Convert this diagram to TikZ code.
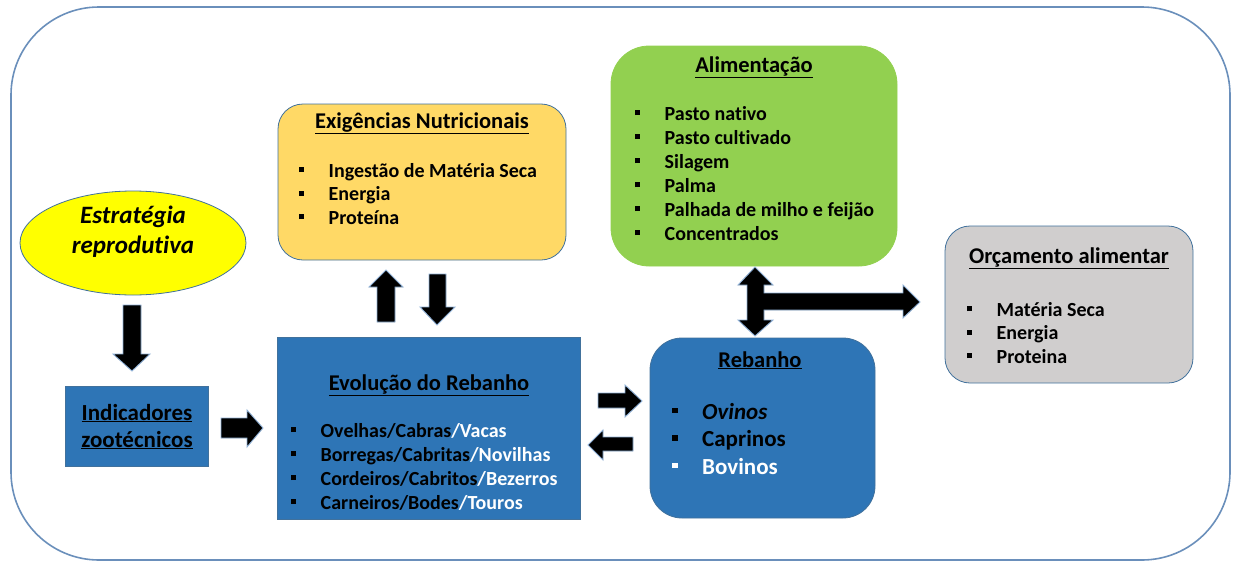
\documentclass[tikz,border=0pt]{standalone}
\usepackage{fontspec}
\setmainfont{Carlito}[RawFeature=-liga]
\usetikzlibrary{shapes.geometric}
\definecolor{frameblue}{HTML}{6A8FBB}
\definecolor{edgeblue}{HTML}{41719C}
\definecolor{boxblue}{HTML}{2E75B6}
\definecolor{orangefill}{HTML}{FFD966}
\definecolor{greenfill}{HTML}{92D050}
\definecolor{grayfill}{HTML}{D0CECE}
\definecolor{yellowfill}{HTML}{FFFF00}
\definecolor{glow}{HTML}{8FB0D6}
\newcommand{\bul}[1][black]{{\color{#1}\rule[4.8pt]{5pt}{5pt}}\hspace{24.5pt}}
\newcommand{\bigbul}[1][black]{{\color{#1}\rule[6pt]{5.5pt}{5.5pt}}\hspace{24.5pt}}
\begin{document}
\begin{tikzpicture}[x=1pt,y=-1pt,
  box/.style={draw=edgeblue, line width=0.8pt, inner sep=0pt},
  ttl/.style={anchor=base, font=\bfseries\fontsize{22.5}{24}\selectfont},
  itm/.style={anchor=base west, inner sep=0pt, font=\bfseries\fontsize{20}{22}\selectfont},
  bigitm/.style={anchor=base west, inner sep=0pt, font=\bfseries\fontsize{23}{25}\selectfont},
  blk/.style={fill=black, draw=glow, line width=0.9pt, line join=miter}
]
\useasboundingbox (0,0) rectangle (1234,562);
\draw[frameblue, line width=1.6pt, rounded corners=88pt] (11,7) rectangle (1230,560);

% boxes
\node[box, fill=orangefill, rounded corners=25pt, minimum width=288pt, minimum height=156pt] (exig) at (422,182) {};
\node[box, draw=greenfill, fill=greenfill, rounded corners=38pt, minimum width=286pt, minimum height=220pt] (alim) at (754,156) {};
\node[box, fill=grayfill, rounded corners=25pt, minimum width=248pt, minimum height=157pt] (orc) at (1069,304.5) {};
\node[box, fill=boxblue, rounded corners=32pt, minimum width=225pt, minimum height=180pt] (reb) at (762.5,428) {};
\node[box, fill=boxblue, minimum width=303pt, minimum height=182pt] (evo) at (428.5,428) {};
\node[box, fill=boxblue, minimum width=143pt, minimum height=80pt] (ind) at (136.5,426) {};
\node[box, ellipse, fill=yellowfill, minimum width=226pt, minimum height=104pt] (est) at (133,243) {};

% Exigências
\node[ttl] (exigT) at (422,128) {\underline{Exigências Nutricionais}};
\node[itm] (exig1) at (299,177) {\bul Ingestão de Matéria Seca};
\node[itm] (exig2) at (299,200.5) {\bul Energia};
\node[itm] (exig3) at (299,224) {\bul Proteína};

% Alimentação
\node[ttl] (alimT) at (754,72) {\underline{Alimentação}};
\node[itm] (alim1) at (635,120) {\bul Pasto nativo};
\node[itm] (alim2) at (635,144) {\bul Pasto cultivado};
\node[itm] (alim3) at (635,168) {\bul Silagem};
\node[itm] (alim4) at (635,192) {\bul Palma};
\node[itm] (alim5) at (635,216) {\bul Palhada de milho e feijão};
\node[itm] (alim6) at (635,240) {\bul Concentrados};

% Orçamento
\node[ttl] (orcT) at (1069,263) {\underline{Orçamento alimentar}};
\node[itm] (orc1) at (967,316) {\bul Matéria Seca};
\node[itm] (orc2) at (967,339.5) {\bul Energia};
\node[itm] (orc3) at (967,363) {\bul Proteina};

% Rebanho
\node[ttl] (rebT) at (760,367) {\underline{Rebanho}};
\node[bigitm] (reb1) at (672,419) {\bigbul\textit{Ovinos}};
\node[bigitm] (reb2) at (672,446.5) {\bigbul Caprinos};
\node[bigitm, text=white] (reb3) at (672,474) {\bigbul[white]Bovinos};

% Evolução
\node[ttl] (evoT) at (429,390) {\underline{Evolução do Rebanho}};
\node[itm] (evo1) at (291,437) {\bul Ovelhas/Cabras{\color{white}/Vacas}};
\node[itm] (evo2) at (291,461) {\bul Borregas/Cabritas{\color{white}/Novilhas}};
\node[itm] (evo3) at (291,485) {\bul Cordeiros/Cabritos{\color{white}/Bezerros}};
\node[itm] (evo4) at (291,509) {\bul Carneiros/Bodes{\color{white}/Touros}};

% Indicadores
\node[anchor=base, font=\bfseries\fontsize{23}{25}\selectfont] (indA) at (137,420) {\underline{Indicadores}};
\node[anchor=base, font=\bfseries\fontsize{23}{25}\selectfont] (indB) at (137,447) {\underline{zootécnicos}};

% Estratégia
\node[anchor=base, font=\bfseries\itshape\fontsize{25}{27}\selectfont] (estA) at (133,223) {Estratégia};
\node[anchor=base, font=\bfseries\itshape\fontsize{25}{27}\selectfont] (estB) at (133,253) {reprodutiva};

% block arrows
\draw[blk] (123,305) -- (141,305) -- (141,354) -- (150,354) -- (132,371) -- (113,354) -- (123,354) -- cycle;
\draw[blk] (221,418) -- (247,418) -- (247,410) -- (263,428) -- (247,447) -- (247,438) -- (221,438) -- cycle;
\draw[blk] (377,322) -- (377,287) -- (369,287) -- (386,270) -- (403,287) -- (395,287) -- (395,322) -- cycle;
\draw[blk] (429,274) -- (446,274) -- (446,307) -- (455,307) -- (437,325) -- (420,307) -- (429,307) -- cycle;
\draw[blk] (598,393) -- (625,393) -- (625,385) -- (642,401) -- (625,417) -- (625,408) -- (598,408) -- cycle;
\draw[blk] (633,437) -- (603,437) -- (603,430) -- (588,445) -- (603,460) -- (603,451) -- (633,451) -- cycle;
\draw[blk] (755,267) -- (773,285) -- (764,285) -- (764,293) -- (903,293) -- (903,285) -- (920,302) -- (903,318) -- (903,310) -- (764,310) -- (764,320) -- (773,320) -- (755,336) -- (738,320) -- (747,320) -- (747,285) -- (738,285) -- cycle;
\end{tikzpicture}
\end{document}
